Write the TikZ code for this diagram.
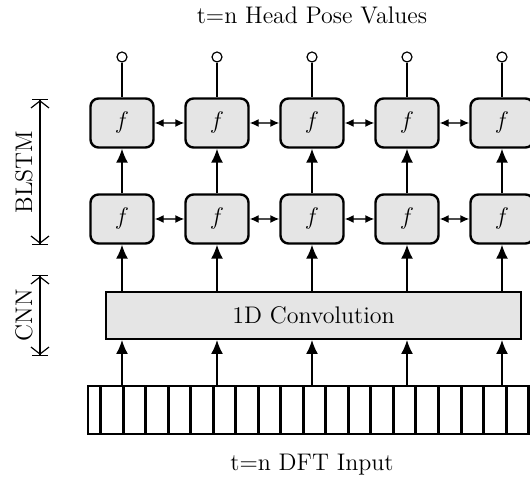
\documentclass[tikz,border=0pt]{standalone}
\usetikzlibrary{arrows.meta}
\begin{document}
\begin{tikzpicture}[x=0.5pt,y=-0.5pt,
  cell/.style={draw,line width=1.2pt,fill=gray!20,rounded corners=4pt,minimum width=31.5pt,minimum height=24.5pt,inner sep=0pt,font=\fontsize{12.5}{14}\selectfont},
  outc/.style={circle,draw,line width=0.6pt,fill=white,minimum size=5pt,inner sep=0pt},
  up/.style={line width=0.75pt,-{Latex[length=7pt,width=6pt]}},
  lat/.style={line width=0.7pt,black!70,{Latex[length=4.5pt,width=4pt,black]}-{Latex[length=4.5pt,width=4pt,black]}},
  brace/.style={line width=0.6pt,{Bar[width=8pt]Straight Barb[length=3.5pt,width=9pt]}-{Straight Barb[length=3.5pt,width=9pt]Bar[width=8pt]}},
  lbl/.style={font=\fontsize{12}{14}\selectfont},
  convbox/.style={draw,line width=1pt,fill=gray!20,minimum width=207.5pt,minimum height=23.5pt,inner sep=0pt,font=\fontsize{12}{14}\selectfont}
]
\useasboundingbox (0,0) rectangle (530,480);
\clip (0,0) rectangle (530,480);

% DFT strip
\draw[line width=0.8pt] (88,386) rectangle (545,434);
\foreach \k in {0,...,19} \draw[line width=1.5pt] ({100.7+22.52*\k},386) -- ({100.7+22.52*\k},434);

\node[convbox] (conv) at (313.5,315.5) {1D Convolution};

\foreach \i/\x in {1/122,2/217,3/312,4/407,5/502} {
  \node[outc] (o\i) at (\x,57) {};
  \node[cell] (t\i) at (\x,123) {$f$};
  \node[cell] (b\i) at (\x,219) {$f$};
  \coordinate (d\i) at (\x,386);
}
\foreach \i in {1,...,5} {
  \draw[line width=0.75pt] (o\i.south) -- (t\i.north);
  \draw[up] (b\i.north) -- (t\i.south);
  \draw[up] (conv.north -| b\i) -- (b\i.south);
  \draw[up] (d\i) -- (d\i |- conv.south);
}
\foreach \i/\j in {1/2,2/3,3/4,4/5} {
  \draw[lat] (t\i.east) -- (t\j.west);
  \draw[lat] (b\i.east) -- (b\j.west);
}

\node[lbl] (title) at (312,15) {t=n Head Pose Values};
\node[lbl] (inp) at (312,465) {t=n DFT Input};
\node[lbl,rotate=90] (blstm) at (24,172) {BLSTM};
\node[lbl,rotate=90] (cnn) at (24,315) {CNN};
\coordinate (bl1) at (40,99);
\coordinate (bl2) at (40,245);
\coordinate (cn1) at (40,275);
\coordinate (cn2) at (40,356);
\draw[brace] (bl1) -- (bl2);
\draw[brace] (cn1) -- (cn2);
\end{tikzpicture}
\end{document}
